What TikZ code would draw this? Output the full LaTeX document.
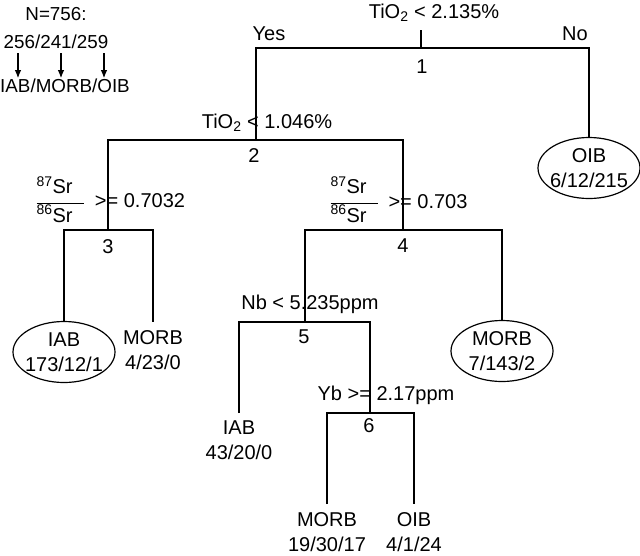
\documentclass[tikz,border=0pt]{standalone}
\usepackage{fontspec}
\setmainfont{Liberation Sans}
\usetikzlibrary{arrows,arrows.meta,shapes}
\tikzstyle{txt}=[inner sep=0pt,anchor=base,font=\fontsize{20}{25}\selectfont]
\tikzstyle{keytxt}=[txt,font=\fontsize{18.8}{24}\selectfont]
\tikzstyle{leaf}=[ellipse,draw,line width=1.2pt,inner xsep=-3pt,inner ysep=0pt,minimum width=102pt,minimum height=61pt,align=center,font=\fontsize{20}{25}\selectfont]
\tikzstyle{leafbox}=[inner xsep=0pt,inner ysep=8pt,anchor=north,align=center,font=\fontsize{20}{25}\selectfont]
\tikzstyle{edge} = [draw,line width=1.2pt,-]
\tikzstyle{pointer} = [draw,line width=1.2pt,-{Latex[length=8pt,width=6.5pt]}]
\newcommand{\srratio}[2]{$\displaystyle\frac{\makebox[47pt][l]{\textsuperscript{#1}Sr}}{\makebox[47pt][l]{\textsuperscript{#2}Sr}}$}

\begin{document}
\begin{tikzpicture}[x=1pt,y=-1pt]
    \useasboundingbox (0,0) rectangle (640,555);
    % Key in the top left corner
    \node[keytxt] (total) at (56,20) {N=756:};
    \node[keytxt] (counts) at (56,48) {256/241/259};
    \node[keytxt] (classes) at (65,92) {IAB/MORB/OIB};
    \foreach \x/\name in {18/p1, 61/p2, 104/p3}{
        \coordinate (\name) at (\x,53);
        \path[pointer] (\name) -- (\name |- classes.north);
    }

    % Split rules and their numbers
    \node[txt] (q1) at (434,18) {TiO\textsubscript{2} < 2.135\%};
    \node[txt] (yes) at (269,40) {Yes};
    \node[txt] (no) at (575,40) {No};
    \node[txt] (q2) at (267,128) {TiO\textsubscript{2} < 1.046\%};
    \node[txt] (r3) at (60,208) {\srratio{87}{86}};
    \node[txt] (q3) at (140,207) {>= 0.7032};
    \node[txt] (r4) at (354,208) {\srratio{87}{86}};
    \node[txt] (q4) at (428,208) {>= 0.703};
    \node[txt] (q5) at (310,309) {Nb < 5.235ppm};
    \node[txt] (q6) at (386,400) {Yb >= 2.17ppm};
    \foreach \pos/\num in {{(422,73)/1}, {(254,162)/2}, {(108,253)/3}, {(403,252)/4}, {(304,343)/5}, {(369,432)/6}}
        \node[txt] (n\num) at \pos {\num};

    % Then the leaves
    \node[leaf] (oib1) at (589,168) {OIB\\6/12/215};
    \node[leaf] (iab1) at (64,352) {IAB\\173/12/1};
    \node[leaf] (morb2) at (502,351) {MORB\\7/143/2};
    \node[leafbox] (morb1) at (153,322) {MORB\\4/23/0};
    \node[leafbox] (iab2) at (239,413) {IAB\\43/20/0};
    \node[leafbox] (morb3) at (327,504) {MORB\\19/30/17};
    \node[leafbox] (oib2) at (414,504) {OIB\\4/1/24};

    % Points where the branches meet
    \foreach \x/\y/\name in {421/30/t1, 421/48/b1, 256/140/b2, 108/230/b3, 403/230/b4, 305/322/b5, 370/413/b6}
        \coordinate (\name) at (\x,\y);

    % Connect the branches
    \path[edge] (t1) -- (b1);
    \foreach \lkid/\bk/\rkid in {b2/b1/oib1.north, b3/b2/b4, iab1.north/b3/morb1.north, b5/b4/morb2.north, iab2.north/b5/b6, morb3.north/b6/oib2.north}
        \path[edge] (\lkid) |- (\bk) -| (\rkid);
\end{tikzpicture}
\end{document}
